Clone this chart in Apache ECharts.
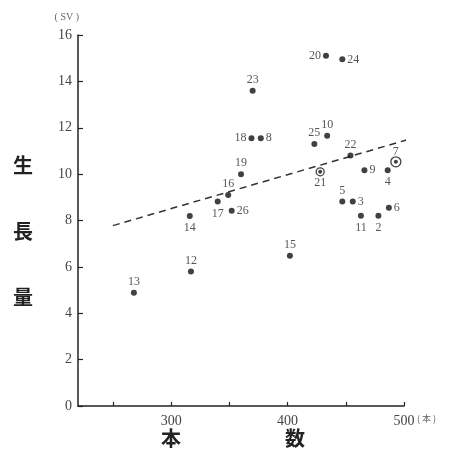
<!DOCTYPE html>
<html>
<head>
<meta charset="utf-8">
<script src="https://cdn.jsdelivr.net/npm/echarts@6/dist/echarts.min.js"></script>
<style>
  html, body { margin: 0; padding: 0; background: #fff; }
  #chart { width: 451px; height: 457px; }
</style>
</head>
<body>
<div id="chart"></div>
<script>
// Stand number (本) and growth (SV) for each numbered plot
const plotIds = [20, 24, 23, 18, 8, 25, 10, 22, 21, 9, 4, 7, 19, 5, 3, 6, 11, 2, 26, 17, 16, 14, 12, 13, 15];
const stemCount = [433, 447, 370, 369, 377, 423, 434, 454, 428, 466, 486, 493, 360, 447, 456, 487, 463, 478, 352, 340, 349, 316, 317, 268, 402];
const growth = [15.1, 14.95, 13.6, 11.55, 11.55, 11.3, 11.65, 10.8, 10.1, 10.17, 10.17, 10.53, 10.0, 8.82, 8.82, 8.55, 8.2, 8.2, 8.42, 8.82, 9.1, 8.19, 5.8, 4.88, 6.48];
// Plots drawn with a ring around the dot
const ringedIds = [21, 7];
// Fitted trend line end points
const trendX = [250, 502];
const trendY = [7.78, 11.47];
// Axis ticks
const yTicks = [0, 2, 4, 6, 8, 10, 12, 14, 16];
const xTicks = [250, 300, 350, 400, 450, 500];
const xTickLabels = [300, 400, 500];

// Where each plot number sits relative to its dot
const labelSide = {
  24: 'right', 8: 'right', 9: 'right', 3: 'right', 6: 'right', 26: 'right',
  20: 'left', 18: 'left',
  21: 'bottom', 4: 'bottom', 11: 'bottom', 2: 'bottom', 14: 'bottom', 17: 'bottom'
};

const serif = '"Liberation Serif", "DejaVu Serif", serif';
const cjk = '"Noto Sans CJK JP", sans-serif';

const points = plotIds.map((id, i) => ({
  value: [stemCount[i], growth[i]],
  name: String(id),
  symbolSize: ringedIds.includes(id) ? 4 : 6,
  label: { position: labelSide[id] || 'top', distance: labelSide[id] === 'bottom' ? 3 : 2 }
}));
const rings = plotIds
  .map((id, i) => ({ id, v: [stemCount[i], growth[i]] }))
  .filter(p => ringedIds.includes(p.id))
  .map(p => ({ value: p.v, symbolSize: p.id === 7 ? 10 : 8 }));

const chart = echarts.init(document.getElementById('chart'), null, { renderer: 'canvas' });
chart.setOption({
  backgroundColor: '#fff',
  animation: false,
  grid: { left: 78, right: 47, top: 35, bottom: 51, containLabel: false },
  xAxis: {
    type: 'value', min: 220, max: 500,
    splitLine: { show: false },
    axisLine: { lineStyle: { color: '#222', width: 1.5 } },
    axisTick: { inside: true, length: 4, customValues: xTicks, lineStyle: { color: '#222', width: 1.2 } },
    axisLabel: { customValues: xTickLabels, margin: 8, color: '#444', fontSize: 14, fontFamily: serif }
  },
  yAxis: {
    type: 'value', min: 0, max: 16,
    splitLine: { show: false },
    axisLine: { show: true, lineStyle: { color: '#222', width: 1.5 } },
    axisTick: { inside: true, length: 5, customValues: yTicks, lineStyle: { color: '#222', width: 1.2 } },
    axisLabel: { customValues: yTicks, margin: 6, color: '#444', fontSize: 14, fontFamily: serif },
    name: '( SV )',
    nameLocation: 'end',
    nameGap: 13,
    nameTextStyle: { color: '#666', fontSize: 10, fontFamily: serif, align: 'right', padding: [0, -1, 0, 0] }
  },
  series: [
    {
      type: 'line',
      data: trendX.map((x, i) => [x, trendY[i]]),
      symbol: 'none',
      lineStyle: { color: '#333', width: 1.5, type: [7, 5] },
      z: 1
    },
    {
      type: 'scatter',
      data: points,
      symbol: 'circle',
      itemStyle: { color: '#111' },
      label: {
        show: true,
        formatter: p => p.name,
        color: '#2a2a2a',
        fontSize: 12,
        fontFamily: serif
      },
      z: 3
    },
    {
      type: 'scatter',
      data: rings,
      symbol: 'circle',
      itemStyle: { color: 'rgba(0,0,0,0)', borderColor: '#111', borderWidth: 1.3 },
      z: 4
    }
  ],
  graphic: [
    { type: 'text', left: 13, top: 155, style: { text: '生', font: 'bold 20px ' + cjk, fill: '#222' } },
    { type: 'text', left: 13, top: 221, style: { text: '長', font: 'bold 20px ' + cjk, fill: '#222' } },
    { type: 'text', left: 13, top: 287, style: { text: '量', font: 'bold 20px ' + cjk, fill: '#222' } },
    { type: 'text', left: 161, top: 428, style: { text: '本', font: 'bold 20px ' + cjk, fill: '#222' } },
    { type: 'text', left: 285, top: 428, style: { text: '数', font: 'bold 20px ' + cjk, fill: '#222' } },
    { type: 'text', left: 417, top: 414, style: { text: '( 本 )', font: '9px ' + cjk, fill: '#666' } }
  ]
});
</script>
</body>
</html>
